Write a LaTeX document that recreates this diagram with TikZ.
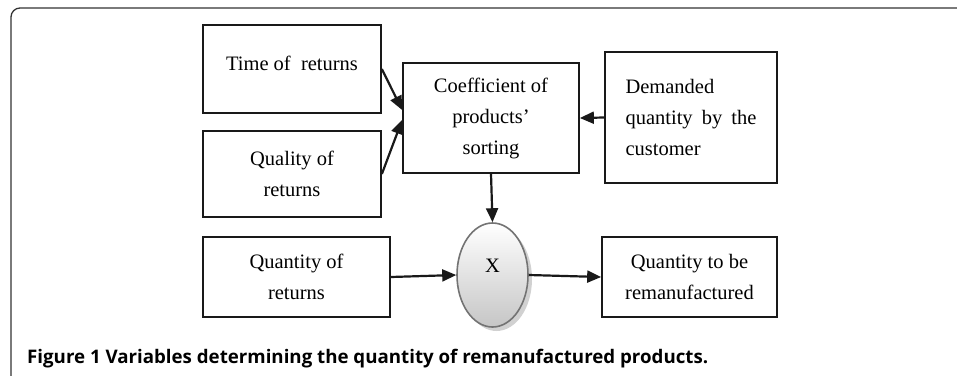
\documentclass[tikz,border=0pt]{standalone}
\usepackage{fontspec}
\usetikzlibrary{arrows.meta,shapes.geometric,shadows}
\newfontfamily\boxfont{Liberation Serif}
\newfontfamily\capfont{Open Sans}
\begin{document}
\begin{tikzpicture}[x=1pt,y=-1pt,
  boxnode/.style={draw=black!90, line width=1.7pt, inner sep=0pt, align=center,
    font=\boxfont\fontsize{20.5}{31}\selectfont},
  conn/.style={line width=2.2pt, draw=black!90, -{Triangle[length=14pt,width=12pt]}},
  framestyle/.style={draw=black!80, line width=1.3pt, rounded corners=9pt},
  multnode/.style={ellipse, draw=gray!90!black, line width=1.6pt, inner sep=0pt,
    minimum width=71pt, minimum height=104pt,
    top color=white, bottom color=gray!45,
    drop shadow={shadow xshift=4pt, shadow yshift=-4pt, fill=black!18, opacity=1},
    font=\boxfont\fontsize{20.5}{31}\selectfont},
  captionstyle/.style={anchor=base west, inner sep=0pt,
    font=\capfont\bfseries\fontsize{18.7}{21}\selectfont}
]
\useasboundingbox (0,0) rectangle (957,375);
\draw[framestyle] (11,376) -- (11,8) -- (958,8);

\node[boxnode, minimum width=178pt, minimum height=88pt] (time) at (292,69)
  {\raisebox{6pt}[\height][\depth]{Time of~ returns}};
\node[boxnode, minimum width=178pt, minimum height=86pt] (quality) at (292,174)
  {Quality of\\ returns};
\node[boxnode, minimum width=176pt, minimum height=110pt] (coef) at (491,118)
  {Coefficient of\\ products’\\ sorting};
\node[boxnode, minimum width=172pt, minimum height=131pt, align=left,
  text width=131pt, inner xsep=20.5pt] (dem) at (691,117.5)
  {Demanded\\ \leavevmode\hbox to 131pt{quantity\hfill by\hfill the}\\ customer};
\node[boxnode, minimum width=187pt, minimum height=80pt] (qty) at (296.5,277)
  {Quantity of\\ returns};
\node[boxnode, minimum width=175pt, minimum height=80pt] (qtb) at (689.5,277)
  {Quantity to be\\ remanufactured};
\node[multnode] (mult) at (492.5,275) {\raisebox{9pt}[\height][\depth]{X}};

\draw[conn] (time.east) -- ([yshift=8pt]coef.west);
\draw[conn] (quality.east) -- ([yshift=-2pt]coef.west);
\draw[conn] (dem.west) -- (coef.east);
\draw[conn] (coef.south) -- (mult.north);
\draw[conn] (qty.east) -- (mult.west);
\draw[conn] (mult.east) -- (qtb.west);

\node[captionstyle] (cap) at (27,363)
  {Figure 1 Variables determining the quantity of remanufactured products.};
\end{tikzpicture}
\end{document}
